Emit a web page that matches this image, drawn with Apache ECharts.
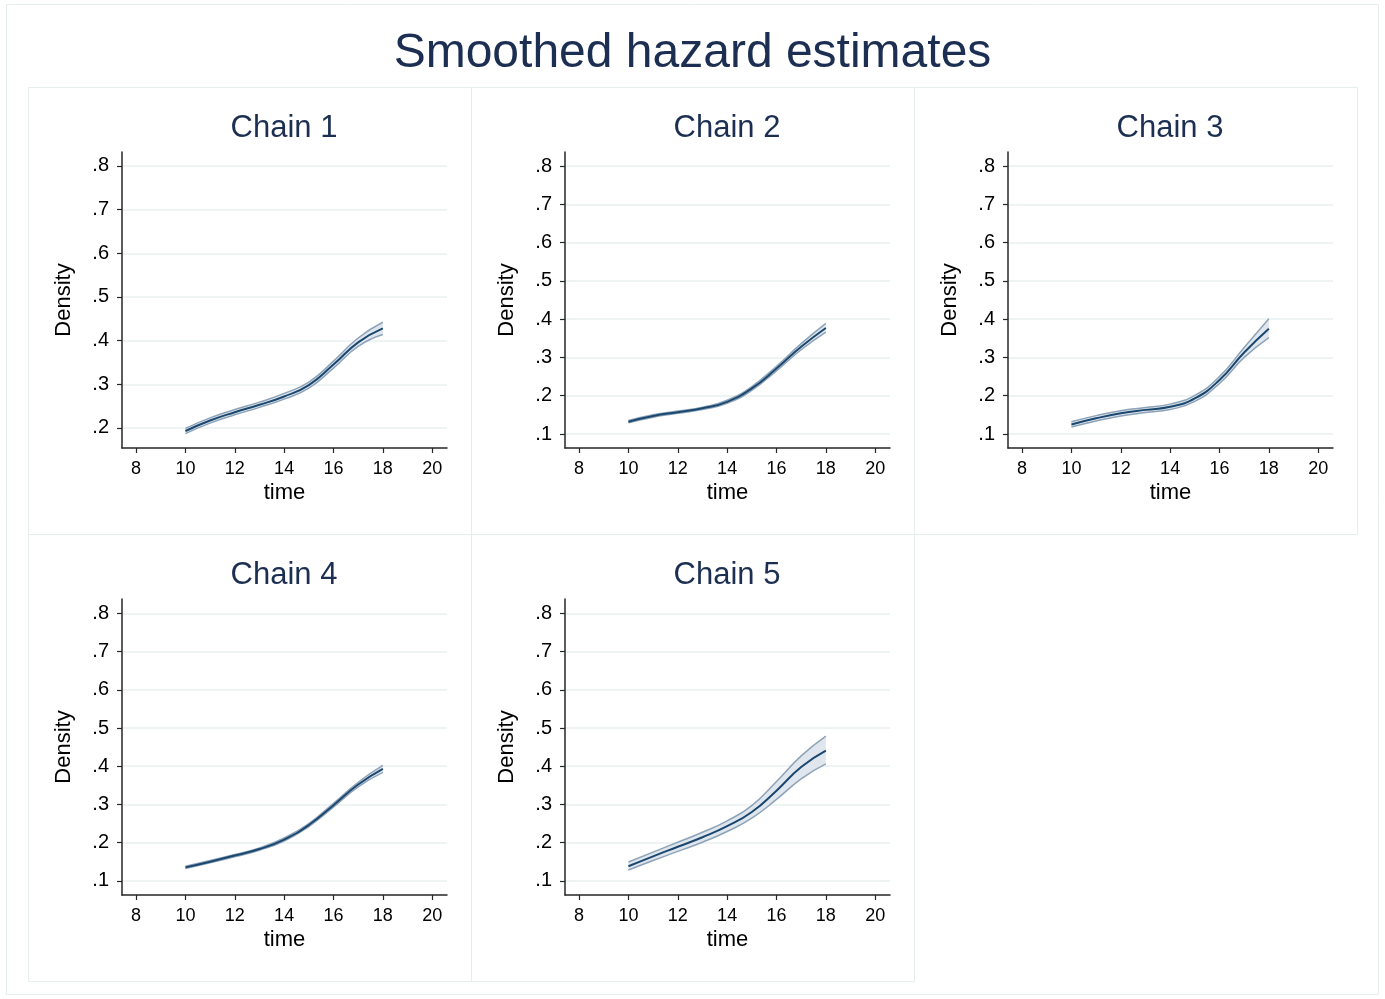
<!DOCTYPE html>
<html>
<head>
<meta charset="utf-8">
<script src="https://cdn.jsdelivr.net/npm/echarts@6/dist/echarts.min.js"></script>
<style>html,body{margin:0;padding:0;background:#fff}#c{width:1385px;height:999px}</style>
</head>
<body>
<div id="c"></div>
<script>
var times = [10, 11, 12, 13, 14, 15, 16, 17, 18];
var xTicks = [8, 10, 12, 14, 16, 18, 20];
var yTicks1 = [0.2, 0.3, 0.4, 0.5, 0.6, 0.7, 0.8];
var yTicks = [0.1, 0.2, 0.3, 0.4, 0.5, 0.6, 0.7, 0.8];
var chainNames = ['Chain 1', 'Chain 2', 'Chain 3', 'Chain 4', 'Chain 5'];

var est1 = [0.193, 0.217, 0.236, 0.253, 0.272, 0.298, 0.345, 0.396, 0.428];
var lo1  = [0.187, 0.211, 0.230, 0.247, 0.266, 0.291, 0.337, 0.387, 0.414];
var hi1  = [0.199, 0.223, 0.242, 0.259, 0.279, 0.305, 0.353, 0.406, 0.442];

var est2 = [0.132, 0.147, 0.157, 0.167, 0.184, 0.219, 0.271, 0.328, 0.377];
var lo2  = [0.129, 0.144, 0.154, 0.164, 0.180, 0.214, 0.265, 0.320, 0.366];
var hi2  = [0.135, 0.150, 0.160, 0.170, 0.188, 0.224, 0.277, 0.336, 0.389];

var est3 = [0.125, 0.141, 0.154, 0.163, 0.171, 0.193, 0.241, 0.313, 0.375];
var lo3  = [0.118, 0.134, 0.147, 0.156, 0.164, 0.185, 0.232, 0.300, 0.352];
var hi3  = [0.132, 0.148, 0.161, 0.169, 0.178, 0.201, 0.250, 0.326, 0.401];

var est4 = [0.135, 0.150, 0.166, 0.183, 0.208, 0.246, 0.298, 0.352, 0.393];
var lo4  = [0.132, 0.147, 0.163, 0.180, 0.204, 0.242, 0.293, 0.346, 0.384];
var hi4  = [0.138, 0.153, 0.169, 0.186, 0.212, 0.250, 0.303, 0.358, 0.402];

var est5 = [0.138, 0.164, 0.189, 0.214, 0.243, 0.280, 0.336, 0.398, 0.441];
var lo5  = [0.128, 0.153, 0.177, 0.201, 0.229, 0.264, 0.313, 0.367, 0.406];
var hi5  = [0.149, 0.175, 0.201, 0.227, 0.257, 0.297, 0.360, 0.427, 0.479];

var ests = [est1, est2, est3, est4, est5];
var los = [lo1, lo2, lo3, lo4, lo5];
var his = [hi1, hi2, hi3, hi4, hi5];

var FONT = '"Liberation Sans", Arial, Helvetica, sans-serif';
var NAVY = '#1a476f';
var TITLE = '#1c2f52';
var EDGE = '#8ea3b8';
var FILL = '#dfe6ed';
var GRIDC = '#e9efef';
var AXC = '#262626';

var panelLeft = [28, 471, 914, 28, 471];
var panelTop = [87, 87, 87, 534, 534];
var gridLeftOff = 94;
var grids = [], xAxes = [], yAxes = [], series = [], graphics = [];

graphics.push({type: 'rect', shape: {x: 6.5, y: 4.5, width: 1372, height: 990}, style: {fill: 'none', stroke: '#e6eded', lineWidth: 1}, silent: true});

for (var i = 0; i < 5; i++) {
  var pl = panelLeft[i], pt = panelTop[i];
  graphics.push({type: 'rect', shape: {x: pl + 0.5, y: pt + 0.5, width: 443, height: 447}, style: {fill: 'none', stroke: '#e6eded', lineWidth: 1}, silent: true});
  graphics.push({type: 'text', x: pl + 256, y: pt + 41, style: {text: chainNames[i], font: '31px ' + FONT, fill: TITLE, textAlign: 'center', textVerticalAlign: 'middle'}, silent: true});
  grids.push({left: pl + gridLeftOff, top: pt + 65, width: 325, height: 296});
  var isFirst = (i === 0);
  var ymin = isFirst ? 0.154 : 0.0634;
  var ymax = isFirst ? 0.832 : 0.8366;
  if (i >= 3) { ymin = 0.0627; ymax = 0.838; }
  var yt = isFirst ? yTicks1 : yTicks;
  xAxes.push({
    type: 'value', gridIndex: i, min: 7.43, max: 20.6,
    name: 'time', nameLocation: 'middle', nameGap: 34,
    nameTextStyle: {fontFamily: FONT, fontSize: 22, color: '#000'},
    axisLine: {show: true, onZero: false, lineStyle: {color: AXC, width: 1.5}},
    axisTick: {show: true, length: 5, customValues: xTicks, lineStyle: {color: AXC, width: 1.2}},
    axisLabel: {customValues: xTicks, fontFamily: FONT, fontSize: 18, color: '#000', margin: 12},
    splitLine: {show: false}
  });
  yAxes.push({
    type: 'value', gridIndex: i, min: ymin, max: ymax,
    name: 'Density', nameLocation: 'middle', nameGap: 47, nameRotate: 90,
    nameTextStyle: {fontFamily: FONT, fontSize: 22, color: '#000'},
    axisLine: {show: true, onZero: false, lineStyle: {color: AXC, width: 1.5}},
    axisTick: {show: true, length: 5, customValues: yt, lineStyle: {color: AXC, width: 1.2}},
    axisLabel: {customValues: yt, fontFamily: FONT, fontSize: 20, color: '#000', margin: 13,
      formatter: function (v) { return String(Math.round(v * 10) / 10).replace(/^0/, ''); }},
    splitLine: {show: true, lineStyle: {color: GRIDC, width: 1.5}}
  });
  // band: value first in each row so that the stack is applied to y
  var lowData = times.map(function (t, k) { return [los[i][k], t]; });
  var bandData = times.map(function (t, k) { return [+(his[i][k] - los[i][k]).toFixed(4), t]; });
  var estData = times.map(function (t, k) { return [t, ests[i][k]]; });
  series.push({type: 'line', xAxisIndex: i, yAxisIndex: i, data: lowData, encode: {x: 1, y: 0},
    stack: 'band' + i, smooth: 0.5, symbol: 'none',
    lineStyle: {color: EDGE, width: 1.5}, z: 2, silent: true});
  series.push({type: 'line', xAxisIndex: i, yAxisIndex: i, data: bandData, encode: {x: 1, y: 0},
    stack: 'band' + i, smooth: 0.5, symbol: 'none',
    lineStyle: {color: EDGE, width: 1.5}, areaStyle: {color: FILL, opacity: 1}, z: 2, silent: true});
  series.push({type: 'line', xAxisIndex: i, yAxisIndex: i, data: estData, smooth: 0.5, symbol: 'none',
    lineStyle: {color: NAVY, width: 2}, z: 3, silent: true});
}

var chart = echarts.init(document.getElementById('c'), null, {renderer: 'canvas'});
chart.setOption({
  animation: false,
  backgroundColor: '#fff',
  title: {text: 'Smoothed hazard estimates', left: 'center', top: 25,
    textStyle: {fontFamily: FONT, fontSize: 48, fontWeight: 'normal', color: TITLE}},
  grid: grids, xAxis: xAxes, yAxis: yAxes, series: series, graphic: graphics
});
</script>
</body>
</html>
